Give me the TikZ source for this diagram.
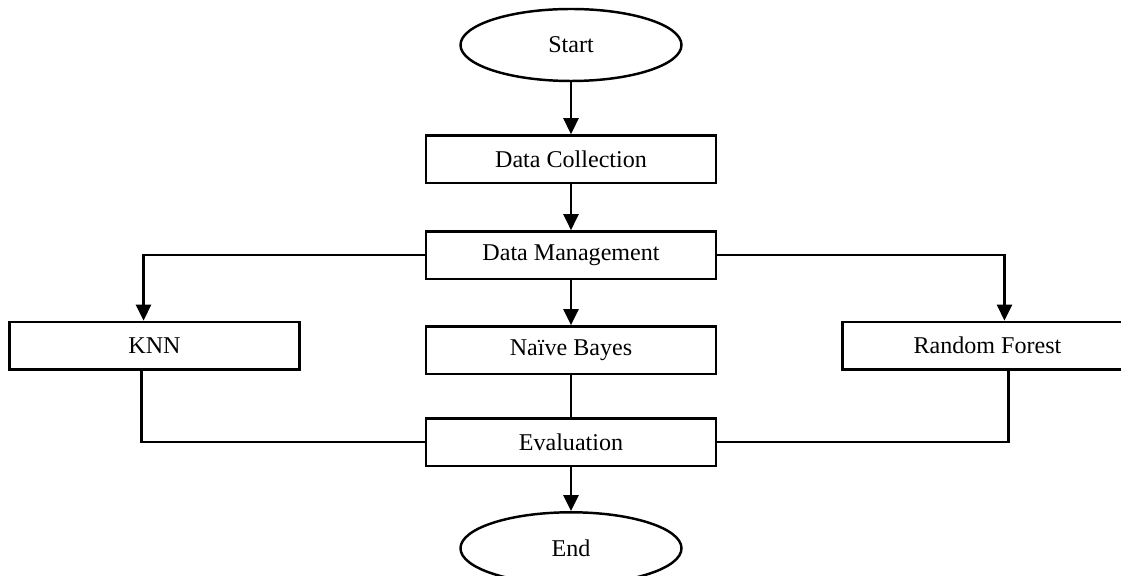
\documentclass[tikz,border=0pt]{standalone}
\usepackage{fontspec}
\setmainfont{Liberation Serif}
\usepackage{tikz}
\usetikzlibrary{positioning}
\usetikzlibrary{arrows,arrows.meta}
\usetikzlibrary{shapes,shapes.geometric}
\tikzstyle{block} = [draw, fill=white, rectangle, minimum height=0.95cm, minimum width=5.8cm, inner sep=0pt]
\tikzstyle{terminal} = [draw, fill=white, ellipse, minimum height=1.44cm, minimum width=4.42cm, inner sep=0pt]
\tikzstyle{coord} = [coordinate]

\begin{document}
\begin{tikzpicture}[auto, >={Triangle[length=0.32cm,width=0.3cm]}, line width=1.4pt,
  font=\fontsize{13.7}{16}\selectfont]
	\useasboundingbox (0,0) rectangle (22.42,11.52);

	\node [terminal] (start) at (11.42,10.62) {Start};
	\node [block, node distance=1.04cm, below=of start] (datacoll) {Data Collection};
	\node [block, node distance=0.92cm, below=of datacoll] (datamgmt) {Data Management};
	\node [block, node distance=0.9cm, below=of datamgmt] (bayes) {Naïve Bayes};
	\node [block, node distance=2.48cm, left=of bayes, yshift=0.09cm] (knn) {KNN};
	\node [block, node distance=2.48cm, right=of bayes, yshift=0.09cm] (forest) {Random Forest};
	\node [block, node distance=0.84cm, below=of bayes] (eval) {Evaluation};
	\node [terminal, node distance=0.88cm, below=of eval] (end) {End};

	\draw [->] (start) -- (datacoll);
	\draw [->] (datacoll) -- (datamgmt);
	\draw [->] (datamgmt) -- (bayes);
	\draw [->] (datamgmt.west) -| ([xshift=-0.22cm]knn.north);
	\draw [->] (datamgmt.east) -| ([xshift=0.34cm]forest.north);
	\draw [-] ([xshift=-0.26cm]knn.south) |- (eval.west);
	\draw [-] (bayes) -- (eval);
	\draw [-] ([xshift=0.42cm]forest.south) |- (eval.east);
	\draw [->] (eval) -- (end);
\end{tikzpicture}
\end{document}
